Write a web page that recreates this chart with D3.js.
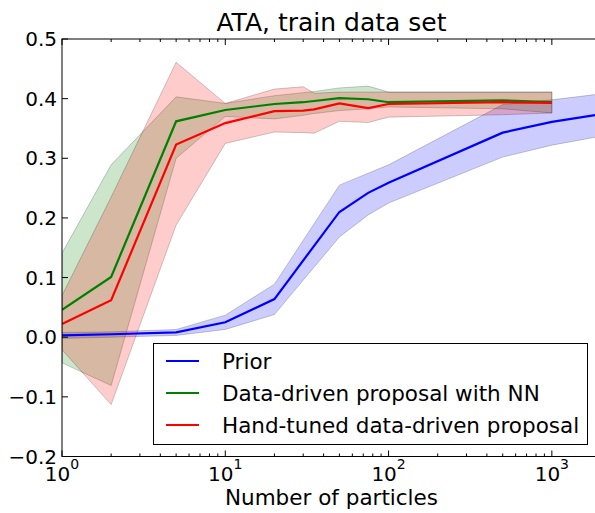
<!DOCTYPE html>
<html>
<head>
<meta charset="utf-8">
<script src="https://cdn.jsdelivr.net/npm/d3@7"></script>
<style>
  body { margin: 0; background: #fff; }
  svg { display: block; font-family: "DejaVu Sans", sans-serif; }
</style>
</head>
<body>
<div id="chart"></div>
<script>
// values
const particles = [1, 2, 5, 10, 20, 30, 35, 50, 75, 100, 500, 1000];
const priorParticles = [1, 2, 5, 10, 20, 50, 75, 100, 500, 1000, 2000];

const priorMean  = [0.003, 0.005, 0.008, 0.025, 0.064, 0.210, 0.242, 0.259, 0.343, 0.361, 0.374];
const priorUpper = [0.008, 0.009, 0.013, 0.037, 0.089, 0.255, 0.275, 0.289, 0.390, 0.398, 0.408];
const priorLower = [-0.002, 0.000, 0.003, 0.013, 0.038, 0.168, 0.205, 0.225, 0.302, 0.322, 0.337];

const nnMean  = [0.046, 0.101, 0.362, 0.381, 0.391, 0.394, 0.396, 0.401, 0.399, 0.394, 0.397, 0.394];
const nnUpper = [0.141, 0.289, 0.403, 0.392, 0.405, 0.410, 0.412, 0.418, 0.421, 0.411, 0.411, 0.411];
const nnLower = [-0.043, -0.081, 0.300, 0.370, 0.366, 0.372, 0.375, 0.380, 0.383, 0.386, 0.383, 0.376];

const handMean  = [0.022, 0.062, 0.323, 0.359, 0.379, 0.380, 0.382, 0.392, 0.384, 0.391, 0.394, 0.393];
const handUpper = [0.070, 0.235, 0.461, 0.392, 0.416, 0.420, 0.409, 0.411, 0.411, 0.411, 0.411, 0.411];
const handLower = [-0.021, -0.113, 0.188, 0.325, 0.344, 0.343, 0.342, 0.362, 0.360, 0.369, 0.373, 0.376];

const legendLabels = ["Prior", "Data-driven proposal with NN", "Hand-tuned data-driven proposal"];
const yTicks = [-0.2, -0.1, 0.0, 0.1, 0.2, 0.3, 0.4, 0.5];
const xMajor = [1, 10, 100, 1000];

function draw() {
  const width = 595, height = 513;
  const left = 62, right = 601, top = 39, bottom = 456.5;

  const x = d3.scaleLog().domain([1, 2000]).range([left, right]);
  const y = d3.scaleLinear().domain([-0.2, 0.5]).range([bottom, top]);

  const svg = d3.select('#chart').append('svg')
    .attr('width', width).attr('height', height);

  svg.append('defs').append('clipPath').attr('id', 'plot')
    .append('rect').attr('x', left).attr('y', top)
    .attr('width', right - left).attr('height', bottom - top);

  const series = [
    {xs: priorParticles, mean: priorMean, lo: priorLower, hi: priorUpper, color: '#0000ff'},
    {xs: particles, mean: nnMean, lo: nnLower, hi: nnUpper, color: '#008000'},
    {xs: particles, mean: handMean, lo: handLower, hi: handUpper, color: '#ff0000'}
  ];

  const g = svg.append('g').attr('clip-path', 'url(#plot)');

  series.forEach(s => {
    const pts = s.xs.map((v, i) => ({x: v, m: s.mean[i], lo: s.lo[i], hi: s.hi[i]}));
    const area = d3.area().x(d => x(d.x)).y0(d => y(d.lo)).y1(d => y(d.hi));
    g.append('path').datum(pts)
      .attr('d', area)
      .attr('fill', s.color).attr('fill-opacity', 0.2)
      .attr('stroke', 'rgba(0,0,0,0.2)').attr('stroke-width', 1);
  });
  series.forEach(s => {
    const pts = s.xs.map((v, i) => ({x: v, m: s.mean[i]}));
    g.append('path').datum(pts)
      .attr('d', d3.line().x(d => x(d.x)).y(d => y(d.m)))
      .attr('fill', 'none').attr('stroke', s.color).attr('stroke-width', 2.2);
  });

  // frame
  svg.append('rect').attr('x', left).attr('y', top)
    .attr('width', right - left).attr('height', bottom - top)
    .attr('fill', 'none').attr('stroke', '#000').attr('stroke-width', 1);

  // x ticks, inside, bottom and top
  const minor = [];
  for (let dec = 1; dec <= 1000; dec *= 10)
    for (let k = 2; k <= 9; k++) if (dec * k <= 2000) minor.push(dec * k);
  const ticks = svg.append('g').attr('stroke', '#000').attr('stroke-width', 1);
  xMajor.forEach(v => {
    ticks.append('line').attr('x1', x(v)).attr('x2', x(v)).attr('y1', bottom).attr('y2', bottom - 6);
    ticks.append('line').attr('x1', x(v)).attr('x2', x(v)).attr('y1', top).attr('y2', top + 6);
  });
  minor.forEach(v => {
    ticks.append('line').attr('x1', x(v)).attr('x2', x(v)).attr('y1', bottom).attr('y2', bottom - 3);
    ticks.append('line').attr('x1', x(v)).attr('x2', x(v)).attr('y1', top).attr('y2', top + 3);
  });
  yTicks.forEach(v => {
    ticks.append('line').attr('x1', left).attr('x2', left + 6).attr('y1', y(v)).attr('y2', y(v));
    ticks.append('line').attr('x1', right).attr('x2', right - 6).attr('y1', y(v)).attr('y2', y(v));
  });

  // y labels
  const fmt = d3.format('.1f');
  svg.append('g').selectAll('text').data(yTicks).join('text')
    .attr('x', left - 5).attr('y', d => y(d))
    .attr('dy', '0.36em')
    .attr('text-anchor', 'end')
    .style('font-size', '20px')
    .text(d => fmt(d));

  // x labels 10^n
  const xl = svg.append('g').selectAll('text').data(xMajor).join('text')
    .attr('x', d => x(d)).attr('y', 481)
    .attr('text-anchor', 'middle')
    .style('font-size', '20px');
  xl.append('tspan').text('10');
  xl.append('tspan').attr('dy', -12).style('font-size', '14px').text(d => Math.round(Math.log10(d)));

  svg.append('text').attr('x', (left + right) / 2).attr('y', 505)
    .attr('text-anchor', 'middle').style('font-size', '21.5px')
    .text('Number of particles');

  svg.append('text').attr('x', (left + right) / 2).attr('y', 31)
    .attr('text-anchor', 'middle').style('font-size', '25px')
    .text('ATA, train data set');

  // legend
  const lg = svg.append('g');
  lg.append('rect').attr('x', 153.5).attr('y', 343.5).attr('width', 434).attr('height', 101)
    .attr('fill', '#fff').attr('stroke', '#000').attr('stroke-width', 1);
  legendLabels.forEach((lab, i) => {
    const yy = 361 + i * 32;
    lg.append('line').attr('x1', 166).attr('x2', 199).attr('y1', yy).attr('y2', yy)
      .attr('stroke', series[i].color).attr('stroke-width', 2.2);
    lg.append('text').attr('x', 222).attr('y', yy).attr('dy', '0.36em')
      .style('font-size', '21.5px').text(lab);
  });
}
draw();
</script>
</body>
</html>
